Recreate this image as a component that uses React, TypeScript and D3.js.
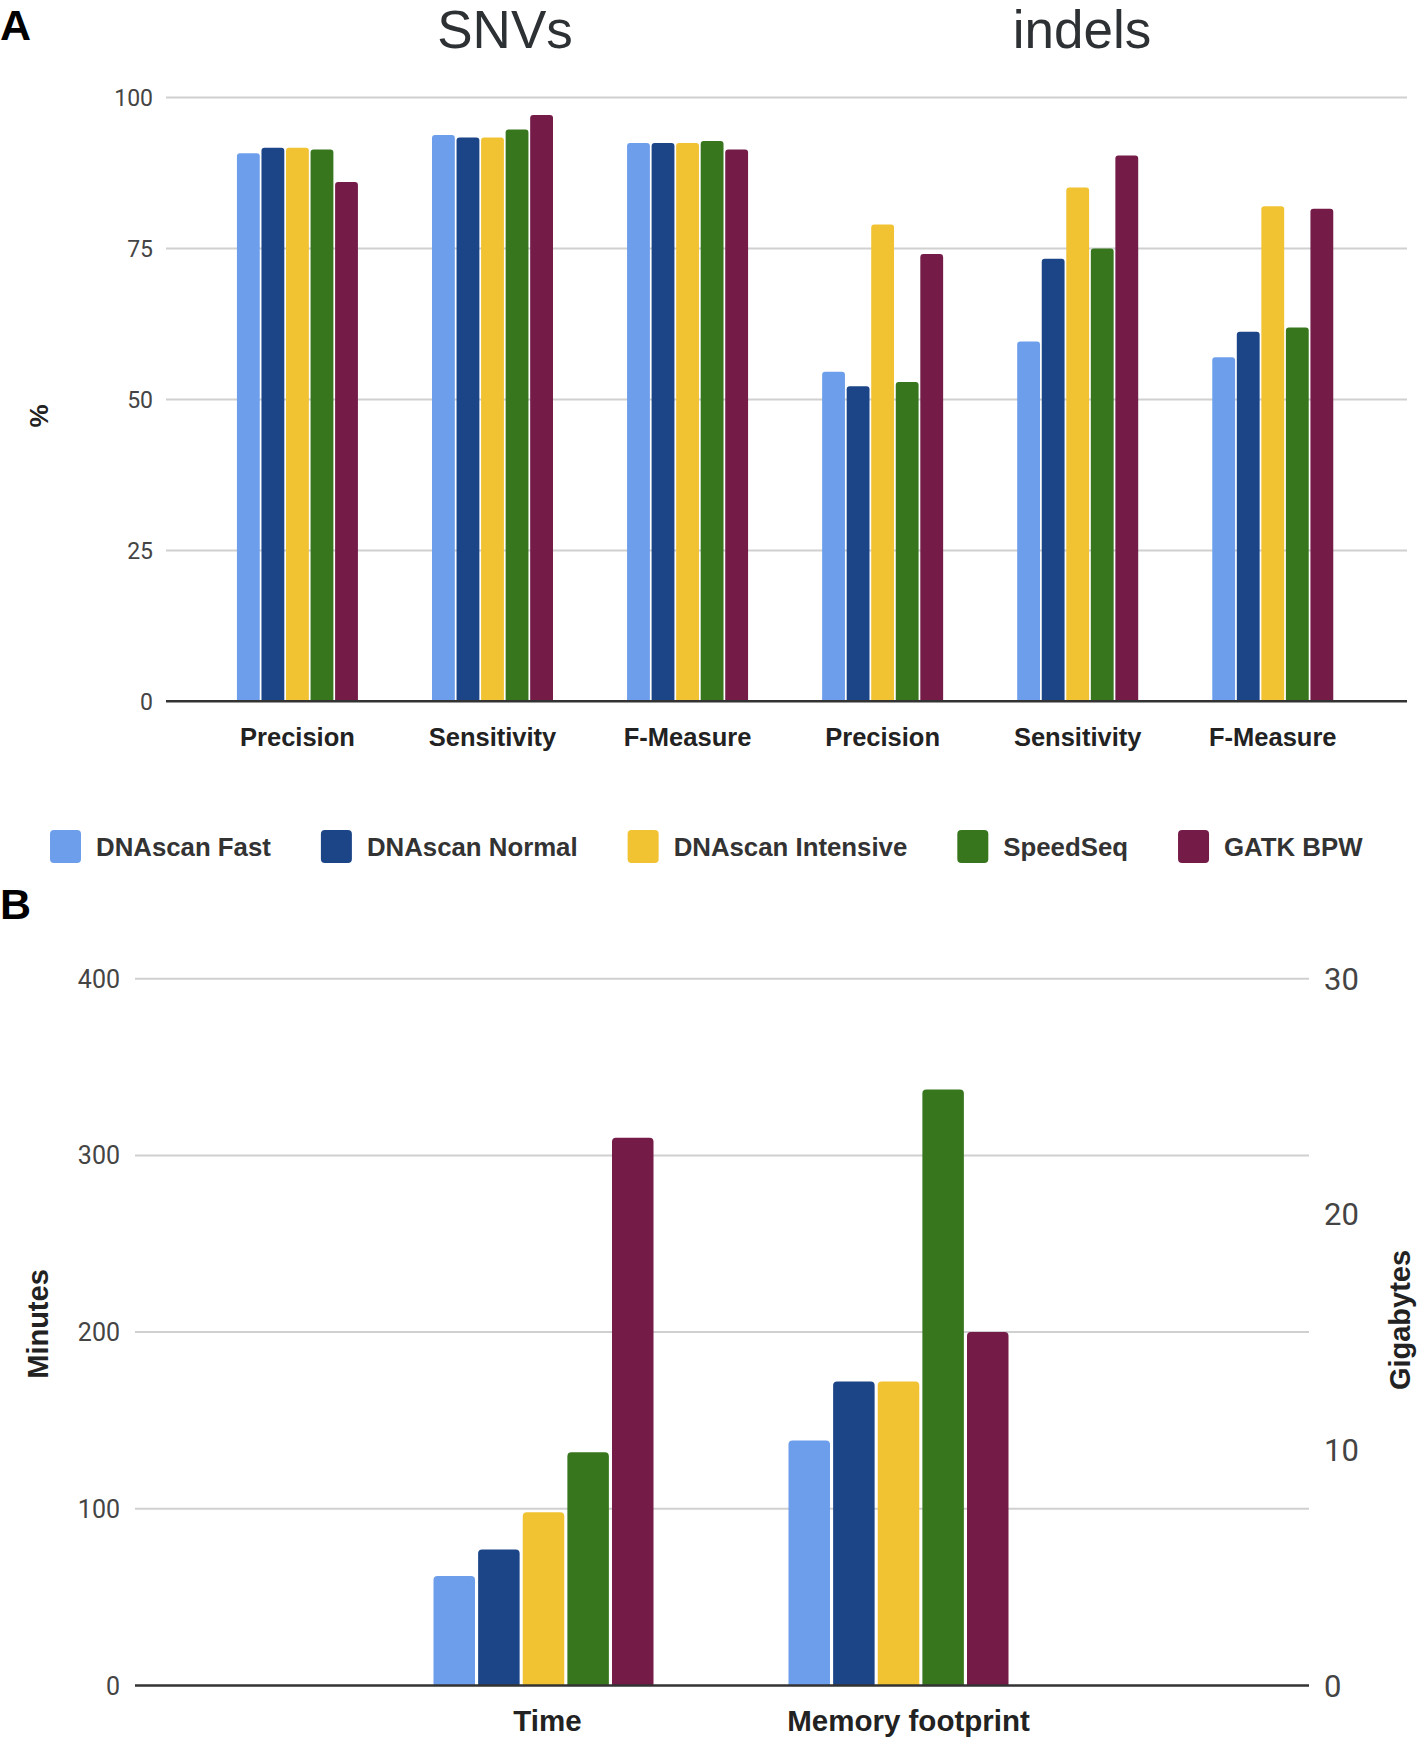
import React from "react";
import * as d3 from "d3";

// ---------- data ----------
const seriesNames = ["DNAscan Fast", "DNAscan Normal", "DNAscan Intensive", "SpeedSeq", "GATK BPW"];
const seriesColors = ["#6d9eeb", "#1c4587", "#f1c232", "#38761d", "#741b47"];

const variantTypes = ["SNVs", "indels"];
const metricsA = ["Precision", "Sensitivity", "F-Measure", "Precision", "Sensitivity", "F-Measure"];
const keysA = ["snv-prec", "snv-sens", "snv-f", "indel-prec", "indel-sens", "indel-f"];
const fastA = [90.8, 93.8, 92.5, 54.6, 59.6, 57.0];
const normalA = [91.7, 93.4, 92.5, 52.2, 73.3, 61.2];
const intensiveA = [91.7, 93.4, 92.5, 79.0, 85.1, 82.0];
const speedseqA = [91.4, 94.7, 92.8, 52.9, 75.0, 61.9];
const gatkA = [86.0, 97.1, 91.4, 74.1, 90.4, 81.6];
const ticksA = [0, 25, 50, 75, 100];

const categoriesB = ["Time", "Memory footprint"];
const timeMinutes = [62, 77, 98, 132, 310];
const memoryGB = [10.4, 12.9, 12.9, 25.3, 15.0];
const ticksMinutes = [0, 100, 200, 300, 400];
const ticksGB = [0, 10, 20, 30];

const valuesA = [fastA, normalA, intensiveA, speedseqA, gatkA];

// ---------- helpers ----------
const LABEL_FONT = "'Liberation Sans', Arial, Helvetica, sans-serif";
const TICK_FONT = "Roboto, 'Liberation Sans', Arial, sans-serif";

function topRounded(x: number, y: number, w: number, h: number, r: number) {
  const rr = Math.min(r, h / 2, w / 2);
  return `M${x},${y + h}V${y + rr}Q${x},${y} ${x + rr},${y}H${x + w - rr}Q${x + w},${y} ${x + w},${y + rr}V${y + h}Z`;
}

function measure(text: string, font: string) {
  if (typeof document === "undefined") return text.length * 14;
  const c = document.createElement("canvas");
  const ctx = c.getContext("2d");
  if (!ctx) return text.length * 14;
  ctx.font = font;
  return ctx.measureText(text).width;
}

export default function App() {
  // ---------- Panel A ----------
  const yA = d3.scaleLinear().domain([0, 100]).range([701.3, 97.6]);
  const xA = d3.scaleBand<string>().domain(keysA).range([199.9, 1370.3]);
  const groupWA = 121;
  const innerA = d3.scaleBand<string>().domain(seriesNames).range([0, groupWA]).paddingInner(0.07);
  const gridA: [number, number] = [166, 1407];

  // ---------- Legend ----------
  const legendSize = 25.8;
  const legendFont = `bold ${legendSize}px ${LABEL_FONT}`;
  const swatchToText = 46;
  let lx = 50;
  const legendItems = seriesNames.map((name, i) => {
    const x = lx;
    const w = measure(name, legendFont);
    lx = x + swatchToText + w + 50;
    return { name, color: seriesColors[i], x };
  });

  // ---------- Panel B ----------
  const yMin = d3.scaleLinear().domain([0, 400]).range([1685.5, 978.7]);
  const yGB = d3.scaleLinear().domain([0, 30]).range([1685.5, 978.7]);
  const xB = d3.scaleBand<string>().domain(categoriesB).range([366, 1076]);
  const groupWB = 220;
  const innerB = d3.scaleBand<string>().domain(seriesNames).range([0, groupWB]).paddingInner(0.07);
  const gridB: [number, number] = [135, 1309];
  const valuesB = [timeMinutes, memoryGB];
  const scalesB = [yMin, yGB];

  return (
    <svg
      width={1417}
      height={1740}
      viewBox="0 0 1417 1740"
      style={{ position: "absolute", left: 0, top: 0, background: "#fff" }}
    >
      <rect x={0} y={0} width={1417} height={1740} fill="#fff" />
      {/* Panel letters */}
      <text x={0} y={40} fontFamily={LABEL_FONT} fontWeight="bold" fontSize={43} fill="#000">A</text>
      <text x={0} y={919} fontFamily={LABEL_FONT} fontWeight="bold" fontSize={43} fill="#000">B</text>

      {/* Panel A titles */}
      {variantTypes.map((t, i) => (
        <text key={t} x={i === 0 ? 505 : 1082} y={48} textAnchor="middle" fontFamily={LABEL_FONT} fontSize={53} fill="#2e3134">{t}</text>
      ))}

      {/* Panel A gridlines & ticks */}
      {ticksA.map((t) => (
        <g key={t}>
          {t !== 0 && <line x1={gridA[0]} x2={gridA[1]} y1={yA(t)} y2={yA(t)} stroke="#d0d0d0" strokeWidth={2} />}
          <text x={153} y={yA(t)} dy="0.36em" textAnchor="end" fontFamily={TICK_FONT} fontSize={23} fill="#444">{t}</text>
        </g>
      ))}

      {/* Panel A bars */}
      {keysA.map((k, ci) => {
        const gx = (xA(k) as number) + xA.bandwidth() / 2 - groupWA / 2;
        return (
          <g key={k}>
            {seriesNames.map((s, si) => {
              const v = valuesA[si][ci];
              const x = gx + (innerA(s) as number);
              const y = yA(v);
              return <path key={s} d={topRounded(x, y, innerA.bandwidth(), yA(0) - y, 3)} fill={seriesColors[si]} />;
            })}
            <text x={(xA(k) as number) + xA.bandwidth() / 2} y={746} textAnchor="middle" fontFamily={LABEL_FONT} fontWeight="bold" fontSize={25.5} fill="#222">{metricsA[ci]}</text>
          </g>
        );
      })}
      <line x1={gridA[0]} x2={gridA[1]} y1={yA(0)} y2={yA(0)} stroke="#333" strokeWidth={2.5} />

      {/* Y label A */}
      <text transform={`translate(48,416) rotate(-90)`} textAnchor="middle" fontFamily={LABEL_FONT} fontWeight="bold" fontSize={26} fill="#222">%</text>

      {/* Legend */}
      {legendItems.map((it) => (
        <g key={it.name}>
          <rect x={it.x} y={830} width={31} height={33} rx={4} fill={it.color} />
          <text x={it.x + swatchToText} y={847} dy="0.36em" fontFamily={LABEL_FONT} fontWeight="bold" fontSize={legendSize} fill="#333">{it.name}</text>
        </g>
      ))}

      {/* Panel B gridlines */}
      {ticksMinutes.map((t) => (
        <g key={"m" + t}>
          {t !== 0 && <line x1={gridB[0]} x2={gridB[1]} y1={yMin(t)} y2={yMin(t)} stroke="#d0d0d0" strokeWidth={2} />}
          <text x={120} y={yMin(t)} dy="0.36em" textAnchor="end" fontFamily={TICK_FONT} fontSize={25} fill="#444">{t}</text>
        </g>
      ))}
      {ticksGB.map((t) => (
        <text key={"g" + t} x={1324} y={yGB(t)} dy="0.36em" textAnchor="start" fontFamily={TICK_FONT} fontSize={31} fill="#444">{t}</text>
      ))}

      {/* Panel B bars */}
      {categoriesB.map((c, ci) => {
        const gx = (xB(c) as number) + xB.bandwidth() / 2 - groupWB / 2;
        const ys = scalesB[ci];
        return (
          <g key={c}>
            {seriesNames.map((s, si) => {
              const v = valuesB[ci][si];
              const x = gx + (innerB(s) as number);
              const y = ys(v);
              return <path key={s} d={topRounded(x, y, innerB.bandwidth(), ys(0) - y, 4)} fill={seriesColors[si]} />;
            })}
            <text x={(xB(c) as number) + xB.bandwidth() / 2 + (ci === 0 ? 4 : 10)} y={1731} textAnchor="middle" fontFamily={LABEL_FONT} fontWeight="bold" fontSize={29.5} fill="#222">{c}</text>
          </g>
        );
      })}
      <line x1={gridB[0]} x2={gridB[1]} y1={yMin(0)} y2={yMin(0)} stroke="#333" strokeWidth={2.5} />

      {/* Y labels B */}
      <text transform={`translate(48,1324) rotate(-90)`} textAnchor="middle" fontFamily={LABEL_FONT} fontWeight="bold" fontSize={29} fill="#222">Minutes</text>
      <text transform={`translate(1410,1320) rotate(-90)`} textAnchor="middle" fontFamily={LABEL_FONT} fontWeight="bold" fontSize={29} fill="#222">Gigabytes</text>
    </svg>
  );
}
